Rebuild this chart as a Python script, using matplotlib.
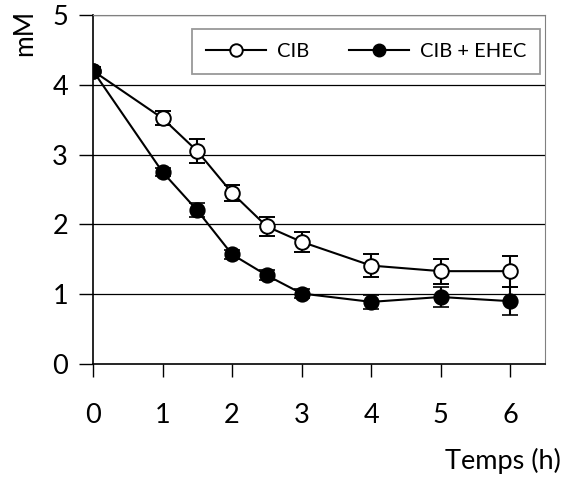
import matplotlib
matplotlib.use('Agg')
import matplotlib.pyplot as plt
from matplotlib.lines import Line2D

plt.rcParams['font.family'] = ['Lato', 'DejaVu Sans']

temps = [0, 1, 1.5, 2, 2.5, 3, 4, 5, 6]
cib = [4.2, 3.52, 3.05, 2.45, 1.97, 1.75, 1.41, 1.33, 1.33]
cib_err = [0.05, 0.1, 0.17, 0.12, 0.13, 0.14, 0.17, 0.18, 0.22]
ehec = [4.2, 2.75, 2.2, 1.57, 1.27, 1.01, 0.89, 0.96, 0.9]
ehec_err = [0.05, 0.06, 0.1, 0.07, 0.07, 0.07, 0.1, 0.15, 0.2]
xticks = [0, 1, 2, 3, 4, 5, 6]
yticks = [0, 1, 2, 3, 4, 5]

fig = plt.figure(figsize=(5.63, 4.88), dpi=100)
ax = fig.add_axes([93/563, 1-364/488, (545-93)/563, (364-15)/488])

for yv in yticks[1:]:
    ax.axhline(yv, color='black', lw=0.9, zorder=1)

ax.errorbar(temps, cib, yerr=cib_err, color='black', lw=1.5, marker='o',
            ms=10.5, mfc='white', mec='black', mew=1.4, capsize=6, capthick=1.8,
            elinewidth=1.5, zorder=3)
ax.errorbar(temps, ehec, yerr=ehec_err, color='black', lw=1.5, marker='o',
            ms=10.5, mfc='black', mec='black', mew=1.2, capsize=6, capthick=1.8,
            elinewidth=1.5, zorder=4)

ax.set_xlim(0, 6.5)
ax.set_ylim(0, 5)
ax.set_xticks(xticks)
ax.set_yticks(yticks)
ax.tick_params(axis='x', direction='out', length=9, width=1, pad=19, labelsize=19.5)
ax.tick_params(axis='y', direction='out', length=10, width=1, pad=8, labelsize=19.5)

ax.spines['left'].set_color('black')
ax.spines['bottom'].set_color('black')
ax.spines['left'].set_linewidth(1.2)
ax.spines['bottom'].set_linewidth(1.2)
ax.spines['top'].set_color('#808080')
ax.spines['right'].set_color('#808080')

handles = [
    Line2D([], [], color='black', lw=1.5, marker='o', ms=9, mfc='white', mec='black', mew=1.4),
    Line2D([], [], color='black', lw=1.5, marker='o', ms=9, mfc='black', mec='black'),
]
leg = ax.legend(handles, ['CIB', 'CIB + EHEC'], ncol=2, loc='upper right',
                bbox_to_anchor=(0.989, 0.96), borderaxespad=0, fontsize=14.5,
                frameon=True, fancybox=False, edgecolor='#999999', framealpha=1,
                handlelength=3.0, handletextpad=0.5, columnspacing=2.0,
                borderpad=0.7)
leg.get_frame().set_linewidth(1.3)

fig.text(25/563, 1-33/488, 'mM', rotation=90, fontsize=19, ha='center', va='center')
fig.text(0.997, 1-461/488, 'Temps (h)', fontsize=19.5, ha='right', va='center')

fig.savefig('out.png', dpi=100)
